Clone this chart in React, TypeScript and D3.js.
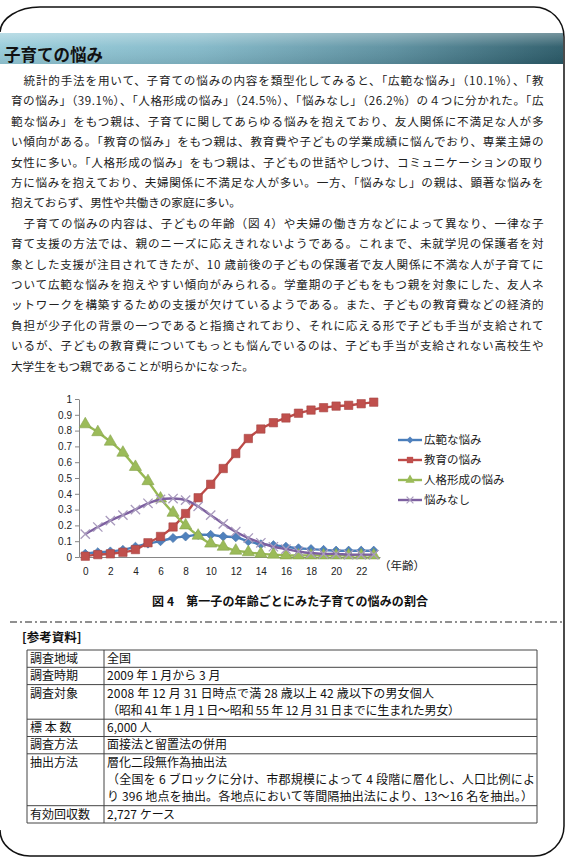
import { useEffect, useRef } from "react";
import * as d3 from "d3";

// 第一子の年齢（0〜23歳）
const AGES = [0, 1, 2, 3, 4, 5, 6, 7, 8, 9, 10, 11, 12, 13, 14, 15, 16, 17, 18, 19, 20, 21, 22, 23];
const X_TICKS = [0, 2, 4, 6, 8, 10, 12, 14, 16, 18, 20, 22];
const Y_TICKS = [0, 0.1, 0.2, 0.3, 0.4, 0.5, 0.6, 0.7, 0.8, 0.9, 1];

const KOHAN = [0.02, 0.03, 0.035, 0.045, 0.065, 0.085, 0.1, 0.12, 0.13, 0.14, 0.14, 0.13, 0.125, 0.1, 0.08, 0.075, 0.065, 0.055, 0.05, 0.045, 0.04, 0.04, 0.04, 0.04];
const KYOIKU = [0.005, 0.015, 0.02, 0.03, 0.047, 0.09, 0.13, 0.19, 0.275, 0.375, 0.46, 0.56, 0.655, 0.75, 0.81, 0.85, 0.88, 0.91, 0.93, 0.945, 0.955, 0.96, 0.97, 0.98];
const JINKAKU = [0.84, 0.79, 0.73, 0.66, 0.57, 0.48, 0.37, 0.28, 0.2, 0.135, 0.085, 0.065, 0.04, 0.03, 0.02, 0.015, 0.01, 0.01, 0.01, 0.01, 0.01, 0.01, 0.01, 0.01];
const NASHI = [0.145, 0.19, 0.23, 0.265, 0.3, 0.34, 0.365, 0.37, 0.36, 0.32, 0.265, 0.21, 0.16, 0.12, 0.09, 0.065, 0.05, 0.035, 0.025, 0.02, 0.02, 0.015, 0.015, 0.015];

const SERIES = [
  { label: "広範な悩み", values: KOHAN, color: "#4a7ebb", fill: "#4f81bd", marker: "diamond" },
  { label: "教育の悩み", values: KYOIKU, color: "#be4b48", fill: "#c0504d", marker: "square" },
  { label: "人格形成の悩み", values: JINKAKU, color: "#98b954", fill: "#9bbb59", marker: "triangle" },
  { label: "悩みなし", values: NASHI, color: "#7d60a0", fill: "#a99bbd", marker: "x" },
];

const PARAGRAPHS = [
  [
    "統計的手法を用いて、子育ての悩みの内容を類型化してみると、「広範な悩み」（10.1%）、「教",
    "育の悩み」（39.1%）、「人格形成の悩み」（24.5%）、「悩みなし」（26.2%）の４つに分かれた。「広",
    "範な悩み」をもつ親は、子育てに関してあらゆる悩みを抱えており、友人関係に不満足な人が多",
    "い傾向がある。「教育の悩み」をもつ親は、教育費や子どもの学業成績に悩んでおり、専業主婦の",
    "女性に多い。「人格形成の悩み」をもつ親は、子どもの世話やしつけ、コミュニケーションの取り",
    "方に悩みを抱えており、夫婦関係に不満足な人が多い。一方、「悩みなし」の親は、顕著な悩みを",
    "抱えておらず、男性や共働きの家庭に多い。",
  ],
  [
    "子育ての悩みの内容は、子どもの年齢（図 4）や夫婦の働き方などによって異なり、一律な子",
    "育て支援の方法では、親のニーズに応えきれないようである。これまで、未就学児の保護者を対",
    "象とした支援が注目されてきたが、10 歳前後の子どもの保護者で友人関係に不満な人が子育てに",
    "ついて広範な悩みを抱えやすい傾向がみられる。学童期の子どもをもつ親を対象にした、友人ネ",
    "ットワークを構築するための支援が欠けているようである。また、子どもの教育費などの経済的",
    "負担が少子化の背景の一つであると指摘されており、それに応える形で子ども手当が支給されて",
    "いるが、子どもの教育費についてもっとも悩んでいるのは、子ども手当が支給されない高校生や",
    "大学生をもつ親であることが明らかになった。",
  ],
];

const TABLE_ROWS = [
  { label: "調査地域", lines: ["全国"] },
  { label: "調査時期", lines: ["2009 年 1 月から 3 月"] },
  { label: "調査対象", lines: ["2008 年 12 月 31 日時点で満 28 歳以上 42 歳以下の男女個人", "（昭和 41 年 1 月 1 日～昭和 55 年 12 月 31 日までに生まれた男女）"] },
  { label: "標 本 数", lines: ["6,000 人"] },
  { label: "調査方法", lines: ["面接法と留置法の併用"] },
  { label: "抽出方法", lines: ["層化二段無作為抽出法", "（全国を 6 ブロックに分け、市郡規模によって 4 段階に層化し、人口比例によ", "り 396 地点を抽出。各地点において等間隔抽出法により、13～16 名を抽出。）"] },
  { label: "有効回収数", lines: ["2,727 ケース"] },
];
// 長い行は元の組版幅に合わせる
const TABLE_WIDTHS: Record<string, number> = {
  "2008 年 12 月 31 日時点で満 28 歳以上 42 歳以下の男女個人": 327,
  "（昭和 41 年 1 月 1 日～昭和 55 年 12 月 31 日までに生まれた男女）": 353,
  "（全国を 6 ブロックに分け、市郡規模によって 4 段階に層化し、人口比例によ": 428,
  "り 396 地点を抽出。各地点において等間隔抽出法により、13～16 名を抽出。）": 426,
};

const JP = "'Noto Sans CJK JP', 'Noto Sans', sans-serif";
const NUM = "'Liberation Sans', Arial, sans-serif";

function markerPath(kind: string, size: number) {
  if (kind === "diamond") return d3.symbol(d3.symbolSquare, size)()!;
  if (kind === "square") return d3.symbol(d3.symbolSquare, size)()!;
  if (kind === "triangle") return d3.symbol(d3.symbolTriangle, size)()!;
  return d3.symbol(d3.symbolX, size)()!;
}

export default function App() {
  const chartRef = useRef<SVGGElement>(null);

  useEffect(() => {
    if (!chartRef.current) return;
    const g = d3.select(chartRef.current);
    g.selectAll("*").remove();

    const x = d3.scalePoint<number>().domain(AGES).range([79, 380]).padding(0.5);
    const y = d3.scaleLinear().domain([0, 1]).range([557, 399]);

    // 軸
    const yAxis = g.append("g")
      .attr("transform", "translate(79,0)")
      .attr("font-family", NUM).attr("font-size", 11.5)
      .call(d3.axisLeft(y).tickValues(Y_TICKS).tickSize(4).tickSizeOuter(0).tickPadding(3)
        .tickFormat(d3.format("~g") as any));
    yAxis.select(".domain").attr("stroke", "#868686");
    yAxis.selectAll(".tick line").attr("stroke", "#868686");
    yAxis.selectAll("text").attr("fill", "#222");

    const xAxis = g.append("g")
      .attr("transform", "translate(0,557)")
      .attr("font-family", NUM).attr("font-size", 11.5)
      .call(d3.axisBottom(x).tickValues(X_TICKS).tickSize(0).tickSizeOuter(0).tickPadding(11));
    xAxis.select(".domain").attr("stroke", "#868686");
    xAxis.selectAll("text").attr("fill", "#222");

    g.append("text")
      .attr("x", 379).attr("y", 569.5)
      .attr("font-family", JP).attr("font-size", 11.5).attr("fill", "#222")
      .text("（年齢）");

    // 系列
    SERIES.forEach((s) => {
      const line = d3.line<number>()
        .x((_, i) => x(AGES[i])!)
        .y((d) => y(d))
        .curve(d3.curveCatmullRom.alpha(0.5));
      g.append("path")
        .datum(s.values)
        .attr("fill", "none")
        .attr("stroke", s.color)
        .attr("stroke-width", 2.4)
        .attr("d", line);

      const size = s.marker === "diamond" ? 42 : s.marker === "square" ? 70 : s.marker === "triangle" ? 64 : 58;
      g.append("g").selectAll("path")
        .data(s.values)
        .join("path")
        .attr("transform", (d, i) => `translate(${x(AGES[i])},${y(d)})${s.marker === "diamond" ? " rotate(45)" : ""}`)
        .attr("d", markerPath(s.marker, size))
        .attr("fill", s.marker === "x" ? "none" : s.fill)
        .attr("stroke", s.marker === "x" ? s.fill : d3.color(s.fill)!.darker(0.4).formatHex())
        .attr("stroke-width", s.marker === "x" ? 1.3 : 0.6);
    });

    // 凡例
    const legend = g.append("g");
    SERIES.forEach((s, i) => {
      const ly = 440 + i * 20;
      legend.append("line")
        .attr("x1", 398).attr("x2", 422).attr("y1", ly).attr("y2", ly)
        .attr("stroke", s.color).attr("stroke-width", 2.4);
      const size = s.marker === "diamond" ? 24 : s.marker === "square" ? 40 : s.marker === "triangle" ? 38 : 32;
      legend.append("path")
        .attr("transform", `translate(410,${ly})${s.marker === "diamond" ? " rotate(45)" : ""}`)
        .attr("d", markerPath(s.marker, size))
        .attr("fill", s.marker === "x" ? "none" : s.fill)
        .attr("stroke", s.marker === "x" ? s.fill : "none")
        .attr("stroke-width", 1.2);
      legend.append("text")
        .attr("x", 424).attr("y", ly + 4.2)
        .attr("font-family", JP).attr("font-size", 11.5).attr("fill", "#222")
        .text(s.label);
    });
  }, []);

  const bodyTop = 80.5;
  const lineGap = 20.4;
  let lineNo = 0;

  const tableTop = 650;
  const lh = 17.3;
  let rowY = tableTop;

  return (
    <div>
      <style>{`body{margin:0}`}</style>
      <svg width={574} height={859} style={{ display: "block", background: "#fff" }}>
        <defs>
          <linearGradient id="band" x1="0" x2="1" y1="0" y2="0">
            <stop offset="0" stopColor="#96cbd9" />
            <stop offset="0.35" stopColor="#82b8c8" />
            <stop offset="0.7" stopColor="#5a8e9e" />
            <stop offset="1" stopColor="#2a5a68" />
          </linearGradient>
          <linearGradient id="sheen" x1="0" x2="0" y1="0" y2="1">
            <stop offset="0" stopColor="#fff" stopOpacity="0.35" />
            <stop offset="0.45" stopColor="#fff" stopOpacity="0.05" />
            <stop offset="1" stopColor="#000" stopOpacity="0.08" />
          </linearGradient>
        </defs>

        {/* 枠 */}
        <path
          d="M 0,32 A 40,26 0 0 1 40,7 L 534,7 A 30,30 0 0 1 564,37 L 564,826 A 30,30 0 0 1 534,856 L 30,856 A 30,26 0 0 1 0,830"
          fill="none" stroke="#111" strokeWidth={1.5}
        />

        {/* 見出し帯 */}
        <rect x={0} y={33} width={563} height={31} fill="url(#band)" />
        <rect x={0} y={33} width={563} height={31} fill="url(#sheen)" />
        <text x={4} y={60.5} fontFamily={JP} fontWeight={700} fontSize={16.5} fill="#111">子育ての悩み</text>

        {/* 本文 */}
        {PARAGRAPHS.map((para, pi) =>
          para.map((t, li) => {
            const yy = bodyTop + lineNo * lineGap + 4.4;
            lineNo += 1;
            const x0 = li === 0 ? 23.5 : 11;
            const last = li === para.length - 1;
            return (
              <text
                key={`${pi}-${li}`}
                x={x0} y={yy}
                fontFamily={JP} fontSize={11.6} fill="#222"
                textLength={last ? undefined : 543.5 - x0}
                lengthAdjust="spacing"
              >{t}</text>
            );
          })
        )}

        {/* 図 */}
        <g ref={chartRef} />
        <text x={152} y={606} fontFamily={JP} fontWeight={700} fontSize={12} fill="#111"
          textLength={276} lengthAdjust="spacing">図 4　第一子の年齢ごとにみた子育ての悩みの割合</text>

        <line x1={10} x2={562} y1={622} y2={622} stroke="#222" strokeWidth={1.2} strokeDasharray="7 3 2 3" />

        {/* 参考資料 */}
        <text x={22} y={642} fontFamily={JP} fontWeight={700} fontSize={12.5} fill="#111">[参考資料]</text>
        <g fontFamily={JP} fontSize={12} fill="#111">
          {TABLE_ROWS.map((row) => {
            const y0 = rowY;
            rowY += row.lines.length * lh;
            return (
              <g key={row.label}>
                <line x1={27} x2={537} y1={y0} y2={y0} stroke="#444" strokeWidth={1} />
                <text x={30} y={y0 + lh / 2 + 4.3}>{row.label}</text>
                {row.lines.map((t, i) => (
                  <text key={i} x={107} y={y0 + lh * i + lh / 2 + 4.3}
                    textLength={TABLE_WIDTHS[t]} lengthAdjust="spacing">{t}</text>
                ))}
              </g>
            );
          })}
          <line x1={27} x2={537} y1={rowY} y2={rowY} stroke="#444" strokeWidth={1} />
          <line x1={27} x2={27} y1={tableTop} y2={rowY} stroke="#444" strokeWidth={1} />
          <line x1={104} x2={104} y1={tableTop} y2={rowY} stroke="#444" strokeWidth={1} />
          <line x1={537} x2={537} y1={tableTop} y2={rowY} stroke="#444" strokeWidth={1} />
        </g>
      </svg>
    </div>
  );
}
